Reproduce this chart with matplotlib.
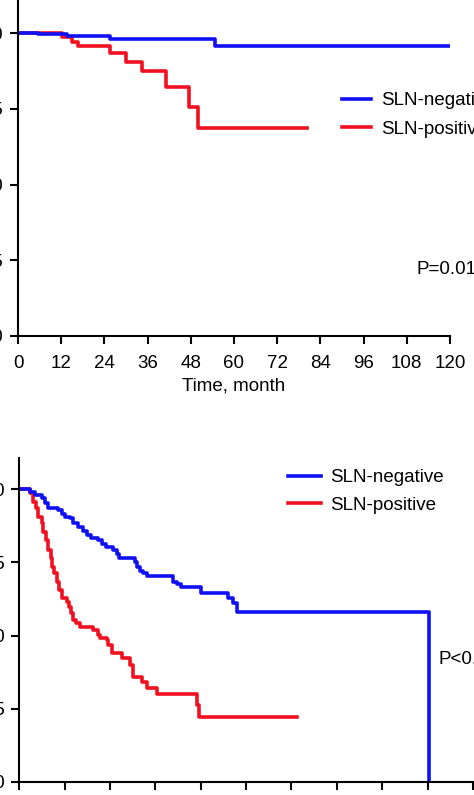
import numpy as np
import matplotlib.pyplot as plt

plt.rcParams['font.family'] = ['Liberation Sans', 'DejaVu Sans']

# ---------------------------- data ----------------------------
# upper panel
neg1_t = [0, 5.6, 13.6, 25.5, 54.7, 120]
neg1_s = [1.0, 0.997, 0.99, 0.98, 0.958, 0.958]
pos1_t = [0, 12.2, 15.0, 16.7, 25.6, 29.9, 34.5, 41.0, 47.5, 49.9, 80.3]
pos1_s = [1.0, 0.986, 0.971, 0.958, 0.933, 0.905, 0.876, 0.823, 0.757, 0.685, 0.685]

# lower panel
neg2_t = [0, 2.8, 4.2, 5.9, 6.8, 7.7, 10.3, 11.2, 12.1, 13.4, 14.3, 15.6, 16.9, 18.0,
          19.1, 20.9, 21.8, 22.9, 24.9, 25.9, 26.4, 30.6, 31.2, 31.9, 32.8, 33.9, 40.7,
          41.6, 42.9, 48.2, 55.3, 56.6, 57.5, 108.3]
neg2_s = [1.0, 0.991, 0.980, 0.968, 0.951, 0.936, 0.928, 0.915, 0.905, 0.900, 0.885,
          0.871, 0.858, 0.843, 0.832, 0.826, 0.812, 0.801, 0.792, 0.777, 0.763, 0.752,
          0.735, 0.720, 0.712, 0.703, 0.684, 0.676, 0.667, 0.644, 0.627, 0.610, 0.581, 0.0]
pos2_t = [0, 2.8, 3.7, 4.4, 5.0, 5.9, 6.4, 7.1, 7.7, 8.3, 8.7, 9.2, 9.9, 10.6, 11.2,
          12.5, 13.2, 13.7, 14.3, 15.0, 16.1, 19.5, 20.9, 21.3, 23.1, 23.5, 24.4, 27.1,
          29.3, 30.2, 32.4, 33.7, 36.3, 46.9, 47.5, 73.4]
pos2_s = [1.0, 0.985, 0.957, 0.934, 0.905, 0.883, 0.854, 0.826, 0.792, 0.763, 0.735,
          0.712, 0.684, 0.655, 0.627, 0.616, 0.598, 0.576, 0.553, 0.542, 0.530, 0.519,
          0.502, 0.490, 0.485, 0.468, 0.440, 0.422, 0.399, 0.359, 0.342, 0.320, 0.300,
          0.263, 0.221, 0.221]

xticks = np.arange(0, 121, 12)
yticks = [0, 0.25, 0.5, 0.75, 1.0]
ylabels = ['0.00', '0.25', '0.50', '0.75', '1.00']
labels = ['SLN-negative', 'SLN-positive']

BLUE = '#1010f5'
RED = '#f01020'
FS = 13.5
LW = 2.6
W, H = 474, 795

fig = plt.figure(figsize=(W / 100, H / 100), dpi=100)


def px_axes(left, right, top, bottom):
    """axes from pixel box"""
    return fig.add_axes([left / W, 1 - bottom / H, (right - left) / W, (bottom - top) / H])


def style(ax, ypad):
    for s in ['top', 'right']:
        ax.spines[s].set_visible(False)
    for s in ['left', 'bottom']:
        ax.spines[s].set_linewidth(1.5)
    ax.tick_params(direction='out', length=6, width=1.5, labelsize=FS)
    ax.tick_params(axis='x', pad=7.5)
    ax.tick_params(axis='y', pad=ypad)
    ax.set_yticks(yticks)
    ax.set_yticklabels(ylabels)
    ax.set_xticks(xticks)


# ------------------------------- upper panel -------------------------------
ax1 = px_axes(18, 450, 0, 336)
ax1.step(pos1_t, pos1_s, where='post', color=RED, lw=LW, label=labels[1])
ax1.step(neg1_t, neg1_s, where='post', color=BLUE, lw=LW, label=labels[0])
ax1.set_xlim(0, 120)
ax1.set_ylim(0, 336 / 303)
style(ax1, 4.8)
ax1.set_xlabel('Time, month', fontsize=FS, labelpad=4)
h, l = ax1.get_legend_handles_labels()
ax1.legend(h[::-1], l[::-1], loc='center left', bbox_to_anchor=(342 / W, 1 - 115 / H),
           bbox_transform=fig.transFigure, frameon=False, fontsize=FS, borderpad=0,
           borderaxespad=0, handlelength=1.55, handletextpad=0.55, labelspacing=0.6)
fig.text(417 / W, 1 - 270 / H, 'P=0.01', fontsize=FS, va='center', ha='left')

# ------------------------------- lower panel -------------------------------
ax2 = px_axes(19.3, 19.3 + 125 * 3.78, 458, 782)
ax2.step(pos2_t, pos2_s, where='post', color=RED, lw=LW, label=labels[1])
ax2.step(neg2_t, neg2_s, where='post', color=BLUE, lw=LW, label=labels[0])
ax2.set_xlim(0, 125)
ax2.set_ylim(0, 324 / 293)
style(ax2, 4.2)
h, l = ax2.get_legend_handles_labels()
ax2.legend(h[::-1], l[::-1], loc='center left', bbox_to_anchor=(288 / W, 1 - 491.5 / H),
           bbox_transform=fig.transFigure, frameon=False, fontsize=FS, borderpad=0,
           borderaxespad=0, handlelength=1.75, handletextpad=0.5, labelspacing=0.55)
fig.text(438 / W, 1 - 660 / H, 'P<0.001', fontsize=FS, va='center', ha='left')

fig.savefig('out.png', dpi=100)
